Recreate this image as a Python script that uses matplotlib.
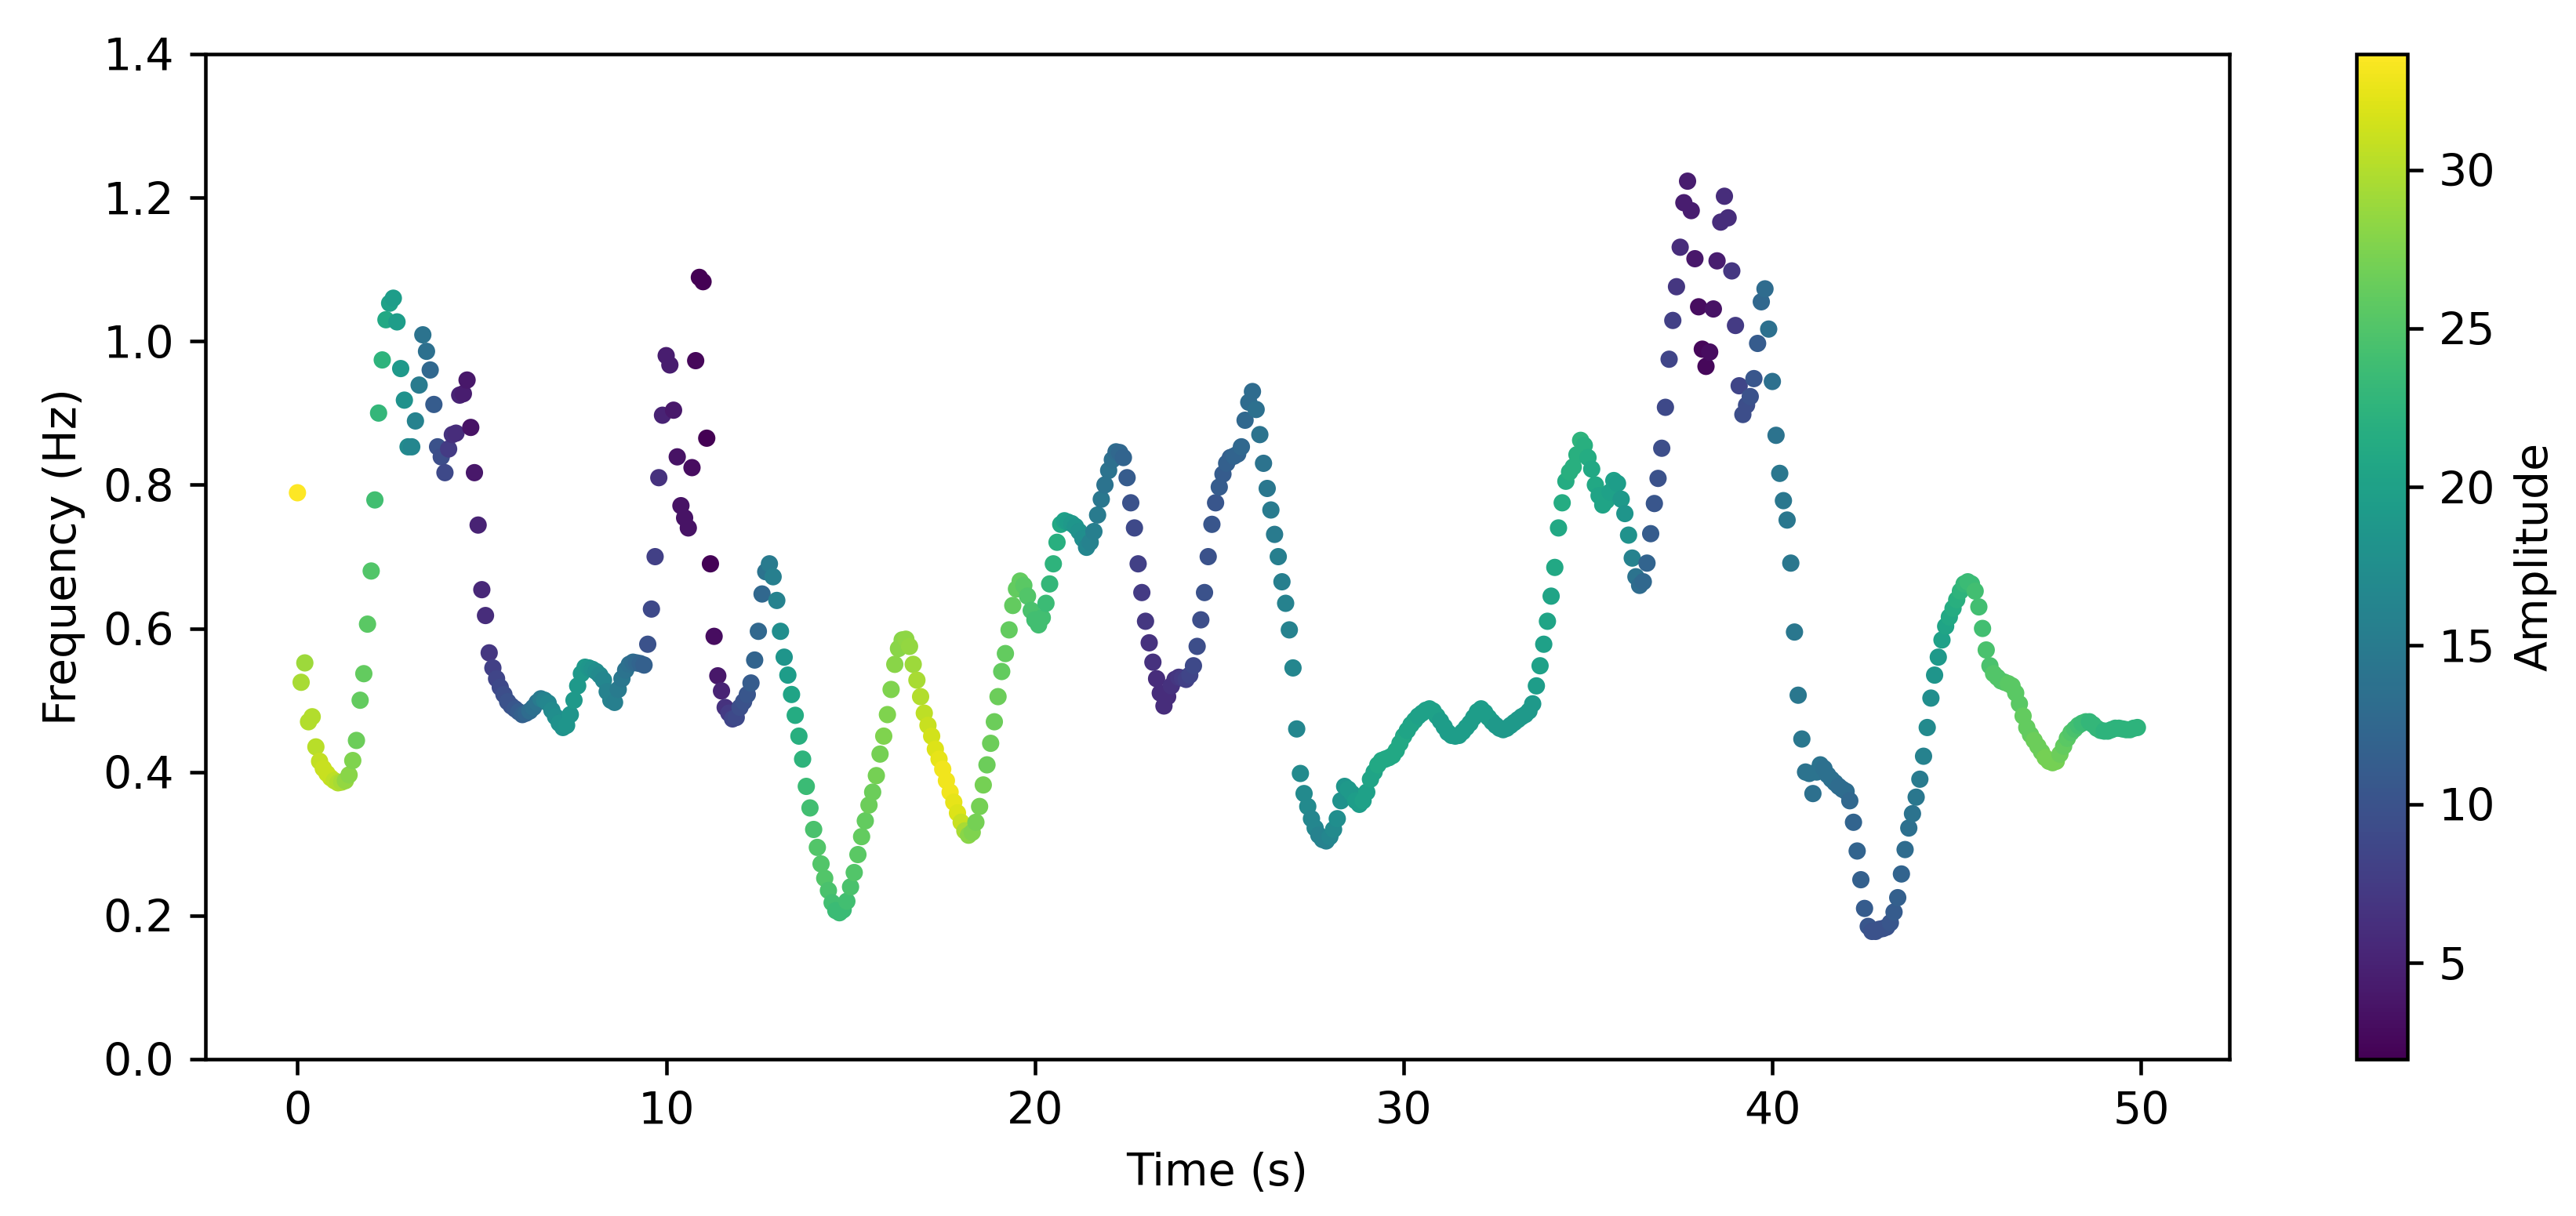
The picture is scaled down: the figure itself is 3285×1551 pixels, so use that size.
import matplotlib
matplotlib.use("Agg")
import matplotlib.pyplot as plt
import numpy as np

# samples every 0.1 s, starting at t = 0
sample_step_s = 0.1

freq_hz = [
    0.789, 0.525, 0.552, 0.47, 0.477, 0.435, 0.415, 0.405, 0.398, 0.392,
    0.388, 0.385, 0.386, 0.388, 0.396, 0.416, 0.444, 0.50, 0.537, 0.606,
    0.68, 0.779, 0.90, 0.974, 1.03, 1.053, 1.06, 1.027, 0.962, 0.918,
    0.853, 0.853, 0.889, 0.939, 1.009, 0.986, 0.96, 0.912, 0.853, 0.839,
    0.817, 0.85, 0.87, 0.872, 0.925, 0.927, 0.946, 0.88, 0.817, 0.744,
    0.654, 0.618, 0.566, 0.545, 0.53, 0.518, 0.508, 0.498, 0.492, 0.488,
    0.484, 0.48, 0.482, 0.485, 0.49, 0.497, 0.502, 0.50, 0.496, 0.486,
    0.477, 0.468, 0.462, 0.465, 0.48, 0.50, 0.52, 0.537, 0.546, 0.545,
    0.543, 0.54, 0.535, 0.528, 0.512, 0.50, 0.497, 0.515, 0.53, 0.542,
    0.55, 0.553, 0.552, 0.551, 0.549, 0.578, 0.627, 0.70, 0.81, 0.897,
    0.98, 0.967, 0.904, 0.839, 0.771, 0.754, 0.74, 0.824, 0.973, 1.089,
    1.083, 0.865, 0.69, 0.589, 0.534, 0.513, 0.49, 0.482, 0.474, 0.476,
    0.49, 0.498, 0.508, 0.524, 0.556, 0.596, 0.648, 0.679, 0.69, 0.672,
    0.639, 0.596, 0.56, 0.535, 0.508, 0.479, 0.45, 0.418, 0.38, 0.35,
    0.32, 0.295, 0.272, 0.252, 0.235, 0.218, 0.207, 0.204, 0.208, 0.22,
    0.24, 0.26, 0.285, 0.31, 0.332, 0.354, 0.372, 0.395, 0.425, 0.45,
    0.48, 0.515, 0.55, 0.572, 0.584, 0.585, 0.575, 0.55, 0.528, 0.505,
    0.482, 0.465, 0.45, 0.432, 0.418, 0.404, 0.388, 0.372, 0.358, 0.343,
    0.33, 0.318, 0.312, 0.316, 0.33, 0.352, 0.382, 0.41, 0.44, 0.47,
    0.505, 0.54, 0.565, 0.598, 0.632, 0.655, 0.666, 0.66, 0.645, 0.625,
    0.612, 0.605, 0.615, 0.635, 0.662, 0.69, 0.72, 0.745, 0.75, 0.748,
    0.746, 0.742, 0.735, 0.725, 0.713, 0.72, 0.735, 0.758, 0.78, 0.80,
    0.82, 0.835, 0.846, 0.845, 0.838, 0.81, 0.775, 0.74, 0.69, 0.65,
    0.61, 0.58, 0.553, 0.53, 0.51, 0.492, 0.505, 0.52, 0.529, 0.532,
    0.531, 0.529, 0.535, 0.548, 0.575, 0.612, 0.65, 0.70, 0.745, 0.775,
    0.797, 0.815, 0.83, 0.838, 0.84, 0.843, 0.853, 0.89, 0.915, 0.93,
    0.905, 0.87, 0.83, 0.795, 0.765, 0.731, 0.70, 0.665, 0.635, 0.598,
    0.545, 0.46, 0.398, 0.37, 0.352, 0.335, 0.322, 0.312, 0.306, 0.304,
    0.31, 0.32, 0.335, 0.36, 0.38, 0.376, 0.37, 0.36, 0.355, 0.36,
    0.372, 0.39, 0.40, 0.41, 0.416, 0.418, 0.42, 0.423, 0.43, 0.44,
    0.45, 0.458, 0.466, 0.472, 0.478, 0.482, 0.486, 0.488, 0.485, 0.478,
    0.471, 0.463, 0.455, 0.451, 0.45, 0.451, 0.456, 0.462, 0.468, 0.476,
    0.484, 0.488, 0.483, 0.476, 0.47, 0.465, 0.461, 0.459, 0.461, 0.465,
    0.469, 0.473, 0.477, 0.48, 0.485, 0.495, 0.52, 0.548, 0.578, 0.61,
    0.645, 0.685, 0.74, 0.775, 0.805, 0.818, 0.825, 0.842, 0.862, 0.855,
    0.838, 0.822, 0.80, 0.785, 0.772, 0.778, 0.79, 0.806, 0.802, 0.78,
    0.76, 0.73, 0.698, 0.672, 0.66, 0.665, 0.691, 0.732, 0.774, 0.809,
    0.851, 0.908, 0.975, 1.029, 1.076, 1.131, 1.193, 1.223, 1.182, 1.115,
    1.048, 0.989, 0.965, 0.985, 1.045, 1.112, 1.166, 1.202, 1.172, 1.098,
    1.022, 0.938, 0.898, 0.911, 0.923, 0.948, 0.997, 1.055, 1.073, 1.017,
    0.944, 0.869, 0.816, 0.778, 0.751, 0.691, 0.595, 0.507, 0.446, 0.40,
    0.398, 0.37, 0.40, 0.41, 0.405, 0.396, 0.39, 0.385, 0.38, 0.376,
    0.373, 0.36, 0.33, 0.29, 0.25, 0.21, 0.185, 0.178, 0.178, 0.181,
    0.182, 0.184, 0.19, 0.205, 0.225, 0.258, 0.292, 0.322, 0.342, 0.365,
    0.39, 0.422, 0.462, 0.503, 0.535, 0.56, 0.584, 0.603, 0.616, 0.628,
    0.64, 0.652, 0.662, 0.665, 0.662, 0.652, 0.63, 0.60, 0.57, 0.548,
    0.537, 0.532, 0.527, 0.525, 0.523, 0.52, 0.51, 0.495, 0.478, 0.462,
    0.452, 0.444, 0.436, 0.428, 0.42, 0.415, 0.413, 0.415, 0.425, 0.436,
    0.447, 0.455, 0.46, 0.465, 0.468, 0.47, 0.47, 0.466, 0.461, 0.458,
    0.457, 0.457, 0.459, 0.461, 0.461, 0.46, 0.459, 0.459, 0.461, 0.462,
]

amplitude = [
    33.65, 29.5, 29, 30, 30, 30.3, 30.8, 31, 31, 31,
    30.5, 30, 29.5, 28.5, 28, 27.5, 26.5, 26, 26, 25.5,
    25, 24, 23, 22.5, 21, 20, 19.5, 19.5, 19, 18,
    17, 16.5, 16, 15, 14, 13.5, 12.5, 11, 10, 9.5,
    9, 7.5, 6.5, 6, 5, 4.5, 4, 3.5, 4, 5,
    5.5, 6, 7, 8, 8.5, 9, 9.5, 10, 10, 10.5,
    11, 11.5, 12, 13, 13.5, 14, 15, 16, 16.5, 17,
    17.5, 18, 18, 18.5, 18.5, 19, 19, 19, 19, 18.5,
    18, 17.5, 17, 16.5, 16, 16, 15.5, 15, 14.5, 14,
    13.5, 13, 12.5, 12, 11.5, 10, 9, 8, 6.5, 5,
    4.5, 4.5, 4, 3.5, 3.5, 3.5, 3.5, 3, 2.5, 1.96,
    2, 2, 2.2, 3, 4, 5, 6.5, 7.5, 8.5, 9,
    9.5, 10, 10.5, 11, 12, 12.5, 12.5, 14, 15, 15.5,
    16, 17.5, 18.5, 19.5, 20.5, 21.5, 22, 22.5, 23.5, 24,
    24.5, 25, 25, 25, 24.5, 24, 23.5, 23.5, 23.5, 24,
    24.5, 25, 25.5, 26, 26, 26.5, 26.5, 27, 27, 27.5,
    27.5, 27.5, 28, 28, 28, 28.3, 28.5, 29, 29.5, 30,
    30.5, 31, 31.5, 32, 32.5, 33, 33, 33, 32.5, 32,
    31, 29.5, 28, 27.5, 27, 27, 27, 26.5, 26.5, 26.5,
    26.5, 26, 26, 26, 26, 26, 26, 25.5, 25, 24.5,
    24, 24, 24, 23.5, 23, 22.5, 22, 21, 20, 19.5,
    19, 18.5, 18, 17.5, 16.5, 16, 15.5, 15, 14.5, 14,
    14, 13.5, 13, 12.5, 12, 11, 10, 9, 8, 7.5,
    7, 6.5, 6.5, 6, 6, 6, 6, 6.5, 6.5, 7,
    7.5, 8, 8.5, 9, 9.5, 9.5, 10, 10, 10.5, 10.5,
    11, 11, 11.5, 11.5, 12, 12, 12.5, 12.5, 13, 13,
    13.5, 14, 14, 14.5, 15, 15, 15.5, 15.5, 16, 16,
    16.5, 16.5, 17, 17, 17, 16.5, 16.5, 16, 16, 16,
    16.5, 17, 17.5, 18, 18.5, 19, 19, 19.5, 19.5, 20,
    20, 20.5, 20.5, 21, 21, 21, 21, 21, 21, 21,
    21, 20.5, 20.5, 20.5, 20, 20, 20, 20, 20, 20,
    19.5, 19.5, 19.5, 19.5, 19.5, 19.5, 19.5, 19.5, 19.5, 19.5,
    19.5, 19.5, 19.5, 19.5, 19.5, 19, 19, 19, 19, 19,
    19, 19, 19, 19, 19, 19, 19.5, 20, 20, 20.5,
    20.5, 21, 21, 21.5, 21.5, 22, 22, 22, 22.5, 22,
    21.5, 21, 21, 20.5, 20.5, 20.5, 20, 20, 19.5, 19,
    18.5, 18, 16, 14, 13, 12.5, 12, 11, 10.5, 10,
    9.5, 9, 8.5, 8, 7, 6, 4.5, 4.5, 4.5, 4,
    3, 2.5, 2.5, 3, 3.5, 4.5, 6, 6, 6, 7,
    7.5, 8.5, 9.5, 9.5, 10, 10.5, 11, 12.5, 13, 13.5,
    13.5, 14, 14.5, 14.5, 14.5, 14.5, 14.5, 14.5, 14.5, 14,
    14, 13.5, 14, 14, 13.5, 13.5, 13.5, 13.5, 13, 13,
    13, 12.5, 12, 12, 11.5, 11, 10.5, 10, 10, 10,
    10, 10, 10.5, 11, 11.5, 12, 13, 13.5, 14, 14.5,
    15, 16, 17, 17.5, 18.5, 19, 20, 20.5, 21, 21.5,
    22, 22.5, 23, 23.5, 23.5, 24, 24, 24, 24.5, 24.5,
    25, 25, 25, 25, 25.5, 25.5, 25.5, 25.5, 26, 26,
    26, 26.5, 26.5, 26.5, 27, 27, 27, 27, 26.5, 26,
    25.5, 25, 24.5, 24, 23.5, 23.5, 23, 23, 23, 23,
    22.5, 22.5, 22.5, 22.5, 22.5, 22.5, 22.5, 22.5, 22.5, 22.5,
]

time_s = sample_step_s * np.arange(len(freq_hz))

DPI = 410
W, H = 3285, 1551

fig = plt.figure(figsize=(W / DPI, H / DPI), dpi=DPI)
ax = fig.add_axes([262 / W, 200 / H, (2843 - 262) / W, (1351 - 69) / H])
cax = fig.add_axes([3005 / W, 200 / H, 65 / W, (1351 - 69) / H])

sc = ax.scatter(time_s, freq_hz, c=amplitude, cmap="viridis", s=15, linewidths=0)
ax.set_ylim(0, 1.4)
ax.set_xlabel("Time (s)")
ax.set_ylabel("Frequency (Hz)")

cb = fig.colorbar(sc, cax=cax)
cb.set_label("Amplitude")

fig.savefig("out.png", dpi=DPI)
